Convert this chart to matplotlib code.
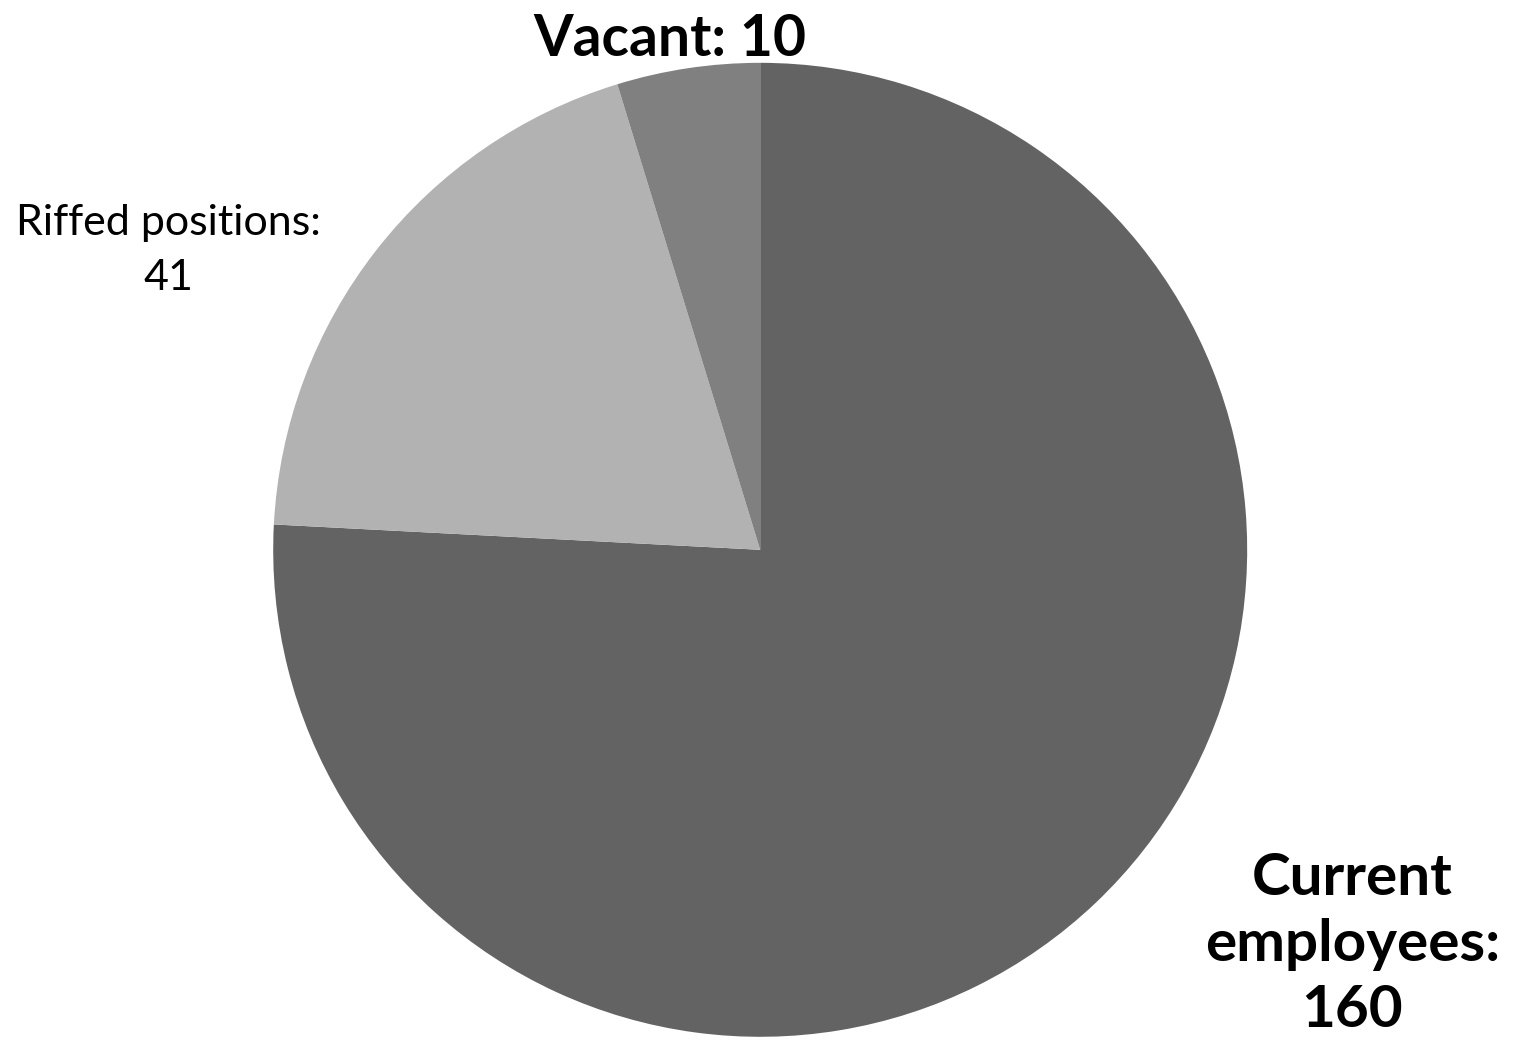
import matplotlib
matplotlib.use("Agg")
import matplotlib.pyplot as plt

labels = ["Current\nemployees:\n160", "Riffed positions:\n41", "Vacant: 10"]
values = [160, 41, 10]
colors = ["#636363", "#b2b2b2", "#808080"]
weights = ["bold", "normal", "bold"]
sizes = [42, 31, 41]
spacing = [1.3, 1.55, 1.3]
label_pos = [(1.216, -0.81), (-1.216, 0.614), (-0.185, 1.047)]

plt.rcParams["font.family"] = ["Lato", "DejaVu Sans"]

fig = plt.figure(figsize=(15.16, 10.48), dpi=100)
ax = fig.add_axes([0, 0, 1, 1])
ax.pie(values, colors=colors, startangle=90, counterclock=False,
       radius=1.0, center=(0, 0), wedgeprops=dict(linewidth=0))
ax.set_xlim(-1.561, 1.552)
ax.set_ylim(-1.023, 1.129)
ax.set_aspect("auto")
ax.axis("off")

for lab, (x, y), w, s, ls in zip(labels, label_pos, weights, sizes, spacing):
    ax.text(x, y, lab, ha="center", va="center", fontsize=s, fontweight=w,
            color="black", linespacing=ls)

fig.savefig("out.png", dpi=100)
